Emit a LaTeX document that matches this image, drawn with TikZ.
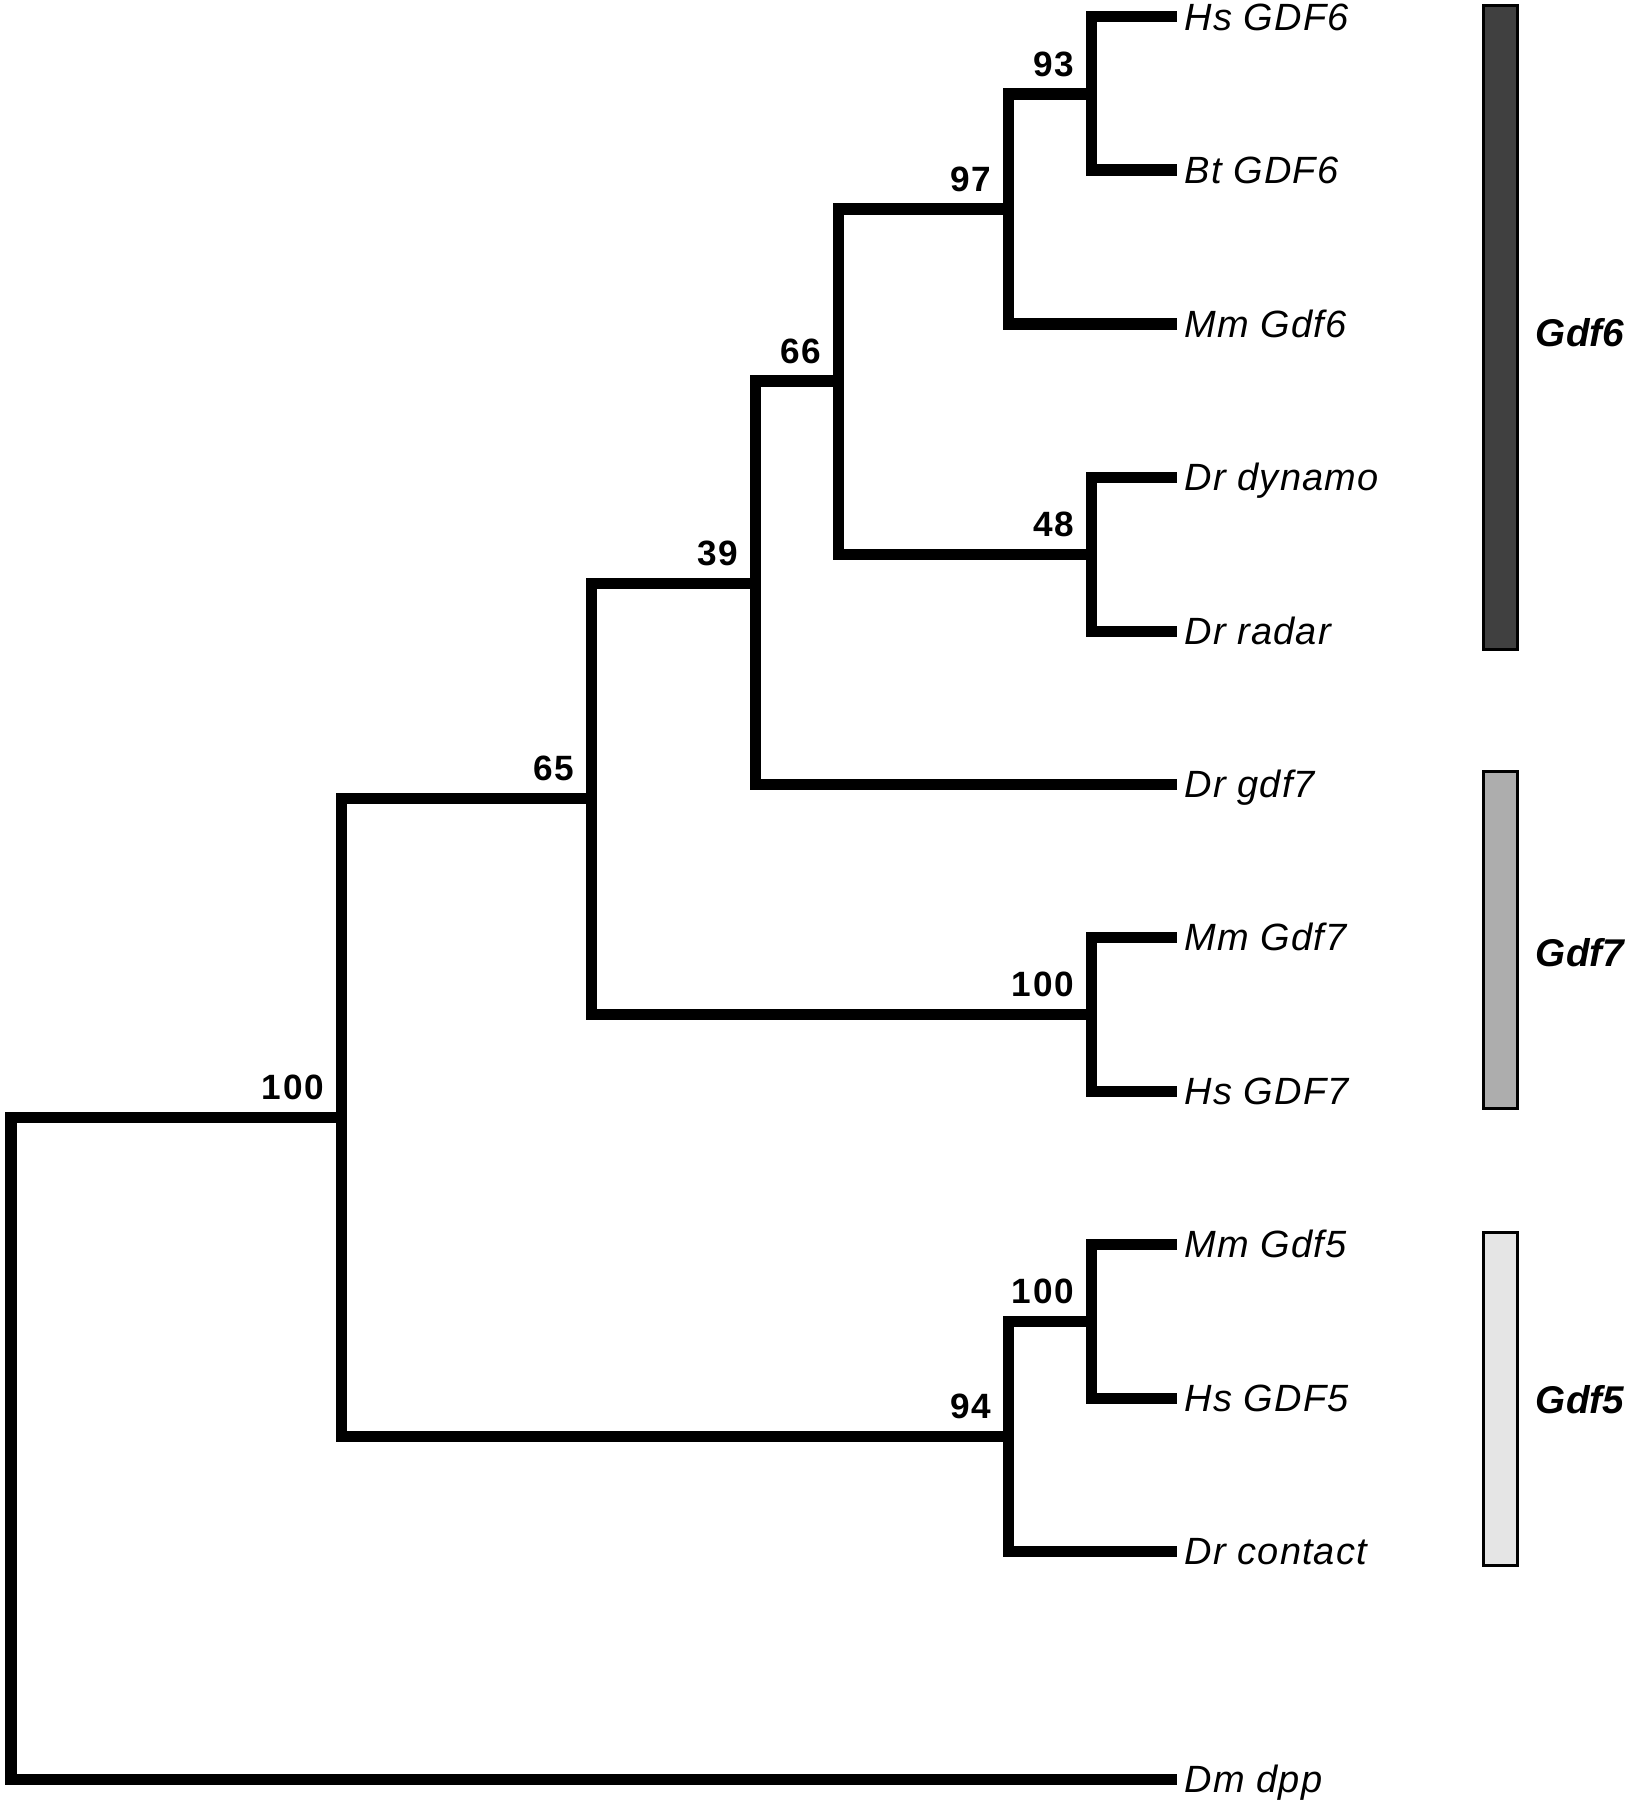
\documentclass[tikz,border=0pt]{standalone}
\usepackage{fontspec}
\setmainfont{Liberation Sans}
\newfontfamily\bootfont[LetterSpace=6]{Liberation Sans}
\newfontfamily\leaffont[LetterSpace=3]{Liberation Sans}

\begin{document}
\begin{tikzpicture}[x=0.01cm, y=-0.01cm,
     branch/.style={line width=0.11cm, line join=miter},
     leaf/.style={anchor=west, inner xsep=2pt, inner ysep=0pt, text height=7.8pt, text depth=0pt,
          font=\leaffont\fontsize{10.8}{12}\selectfont\itshape},
     boot/.style={anchor=south east, inner sep=0pt, xshift=-0.16cm, yshift=0.16cm,
          font=\bootfont\fontsize{10}{12}\selectfont\bfseries},
     bar/.style={draw=black, line width=0.03cm},
     group/.style={font=\fontsize{11}{13}\selectfont\bfseries\itshape}]

     \useasboundingbox (0, 0) rectangle (1629, 1800);

     \node (hsgdf6) at (1177, 17) [leaf] {Hs GDF6};
     \node (btgdf6) at (1177, 170) [leaf] {Bt GDF6};
     \node (mmgdf6) at (1177, 324) [leaf] {Mm Gdf6};
     \node (drdynamo) at (1177, 477) [leaf] {Dr dynamo};
     \node (drradar) at (1177, 631) [leaf] {Dr radar};
     \node (drgdf7) at (1177, 784) [leaf] {Dr gdf7};
     \node (mmgdf7) at (1177, 937) [leaf] {Mm Gdf7};
     \node (hsgdf7) at (1177, 1091) [leaf] {Hs GDF7};
     \node (mmgdf5) at (1177, 1244) [leaf] {Mm Gdf5};
     \node (hsgdf5) at (1177, 1398) [leaf] {Hs GDF5};
     \node (drcontact) at (1177, 1551) [leaf] {Dr contact};
     \node (dmdpp) at (1177, 1779) [leaf] {Dm dpp};

     \coordinate (c93) at (1091, 94);
     \coordinate (c97) at (1008, 209);
     \coordinate (c48) at (1091, 554);
     \coordinate (c66) at (838, 381);
     \coordinate (c39) at (755, 583);
     \coordinate (c100a) at (1091, 1014);
     \coordinate (c65) at (591, 798);
     \coordinate (c100b) at (1091, 1321);
     \coordinate (c94) at (1008, 1436);
     \coordinate (c100) at (341, 1117);
     \coordinate (root) at (11, 1448);

     \node (b93) at (c93) [boot] {93};
     \node (b97) at (c97) [boot] {97};
     \node (b48) at (c48) [boot] {48};
     \node (b66) at (c66) [boot] {66};
     \node (b39) at (c39) [boot] {39};
     \node (b100a) at (c100a) [boot] {100};
     \node (b65) at (c65) [boot] {65};
     \node (b100b) at (c100b) [boot] {100};
     \node (b94) at (c94) [boot] {94};
     \node (b100) at (c100) [boot] {100};

     \draw [branch] (c93) |- (hsgdf6.west);
     \draw [branch] (c93) |- (btgdf6.west);
     \draw [branch] (c97) |- (c93);
     \draw [branch] (c97) |- (mmgdf6.west);
     \draw [branch] (c48) |- (drdynamo.west);
     \draw [branch] (c48) |- (drradar.west);
     \draw [branch] (c66) |- (c97);
     \draw [branch] (c66) |- (c48);
     \draw [branch] (c39) |- (c66);
     \draw [branch] (c39) |- (drgdf7.west);
     \draw [branch] (c100a) |- (mmgdf7.west);
     \draw [branch] (c100a) |- (hsgdf7.west);
     \draw [branch] (c65) |- (c39);
     \draw [branch] (c65) |- (c100a);
     \draw [branch] (c100b) |- (mmgdf5.west);
     \draw [branch] (c100b) |- (hsgdf5.west);
     \draw [branch] (c94) |- (c100b);
     \draw [branch] (c94) |- (drcontact.west);
     \draw [branch] (c100) |- (c65);
     \draw [branch] (c100) |- (c94);
     \draw [branch] (root) |- (c100);
     \draw [branch] (root) |- (dmdpp.west);

     \draw [bar, fill=black!75] (1483, 6) rectangle (1517, 649);
     \draw [bar, fill=black!32] (1483, 771) rectangle (1517, 1108);
     \draw [bar, fill=black!10] (1483, 1232) rectangle (1517, 1565);

     \node (gdf6) at (1580, 333) [group] {Gdf6};
     \node (gdf7) at (1580, 953) [group] {Gdf7};
     \node (gdf5) at (1580, 1400) [group] {Gdf5};

\end{tikzpicture}
\end{document}
